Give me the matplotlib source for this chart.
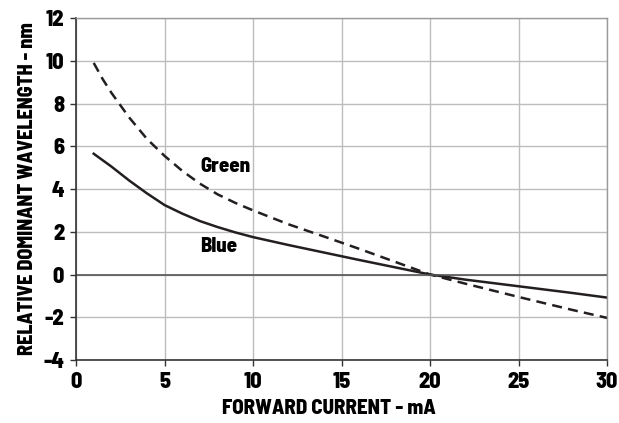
import numpy as np
import matplotlib.pyplot as plt

# forward current, mA
current = [1, 1.5, 2, 3, 4, 5, 6, 7, 8, 9, 10, 12, 14, 16, 18, 20, 22, 25, 28, 30]
# relative dominant wavelength, nm
blue = [5.65, 5.35, 5.05, 4.4, 3.8, 3.25, 2.85, 2.5, 2.22, 1.97, 1.75, 1.38, 1.03, 0.68, 0.34, 0.0,
        -0.24, -0.55, -0.86, -1.08]
green = [9.9, 9.15, 8.5, 7.35, 6.35, 5.55, 4.85, 4.25, 3.75, 3.35, 3.0, 2.35, 1.78, 1.2, 0.6, 0.0,
         -0.43, -1.05, -1.65, -2.03]

x_ticks = [0, 5, 10, 15, 20, 25, 30]
y_ticks = [-4, -2, 0, 2, 4, 6, 8, 10, 12]

plt.rcParams['font.family'] = ['Barlow Semi Condensed', 'Liberation Sans Narrow', 'DejaVu Sans']
plt.rcParams['font.weight'] = 800
plt.rcParams['axes.unicode_minus'] = False

fig = plt.figure(figsize=(6.19, 4.23), dpi=100)
ax = fig.add_axes([0.1228, 0.1489, 0.858, 0.8085])

ax.plot(current, blue, color='#231f20', lw=1.8, ls='-')
ax.plot(current, green, color='#231f20', lw=1.8, ls=(0, (4, 2.5)))

ax.text(7.0, 5.07, 'Green', fontsize=15, fontweight=800, color='#000000', va='center')
ax.text(7.0, 1.31, 'Blue', fontsize=15, fontweight=800, color='#000000', va='center')

ax.set_xlim(0, 30)
ax.set_ylim(-4, 12)
ax.set_xticks(x_ticks)
ax.set_yticks(y_ticks)
ax.grid(True, color='#bdbdbd', lw=1)
ax.axhline(0, color='#555555', lw=1.2)
ax.set_axisbelow(True)

for side in ['left', 'bottom']:
    ax.spines[side].set_color('#333333')
    ax.spines[side].set_linewidth(1.2)
for side in ['top', 'right']:
    ax.spines[side].set_color('#9a9a9a')
    ax.spines[side].set_linewidth(1)

ax.tick_params(axis='both', labelsize=16, length=4.5, width=1, color='#333333', pad=4)
for lab in ax.get_xticklabels() + ax.get_yticklabels():
    lab.set_fontweight(800)

ax.set_xlabel('FORWARD CURRENT - mA', fontsize=15, fontweight=800)
ax.xaxis.set_label_coords(0.4755, -0.113)
ax.set_ylabel('RELATIVE DOMINANT WAVELENGTH - nm', fontsize=14.5, fontweight=800, labelpad=4.5)

fig.savefig('out.png', dpi=100)
